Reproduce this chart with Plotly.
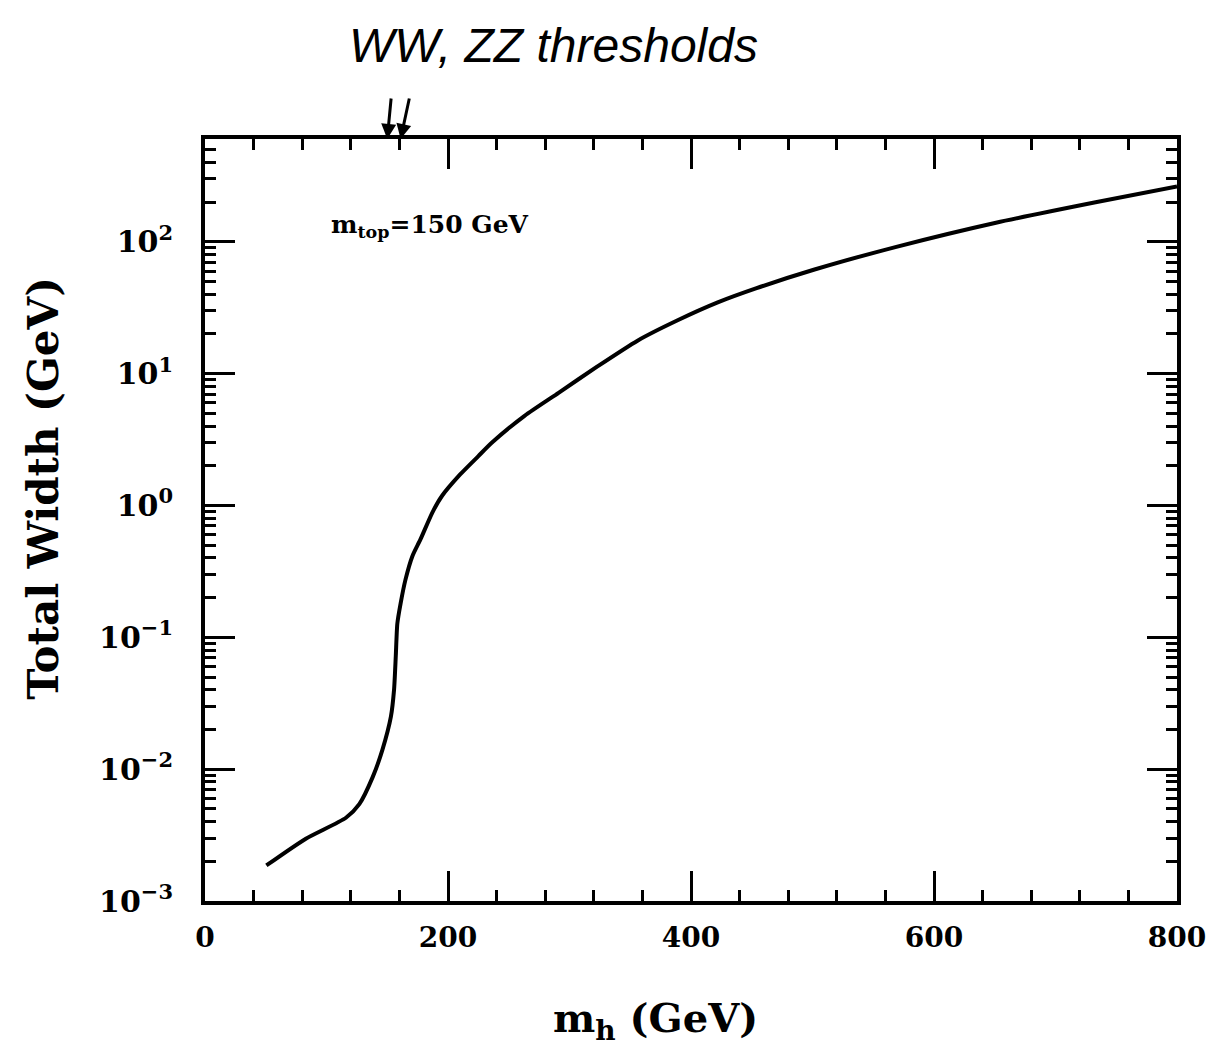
import plotly.graph_objects as go

# Higgs mass (GeV) and total width (GeV)
mh = [50.5, 83, 116, 127, 138, 146, 153, 155.6, 157, 158.3, 161, 165, 170.6,
      177.4, 187, 195, 210, 225, 236, 263, 291, 323, 356, 389, 422, 454, 501,
      569, 651, 733, 800]
width = [0.00186, 0.00297, 0.00428, 0.00543, 0.0087, 0.014, 0.025, 0.040,
         0.0713, 0.127, 0.181, 0.274, 0.411, 0.555, 0.88, 1.18, 1.72, 2.37,
         2.99, 4.79, 7.16, 11.35, 17.8, 25.4, 34.7, 44.5, 61.4, 91.6, 139.6,
         199.5, 263]

x_ticks = [0, 200, 400, 600, 800]
x_ticklabels = ["0", "200", "400", "600", "800"]
y_ticks = [1e-3, 1e-2, 1e-1, 1e0, 1e1, 1e2]
y_ticklabels = ["10<sup>−3</sup>", "10<sup>−2</sup>", "10<sup>−1</sup>",
                "10<sup>0</sup>", "10<sup>1</sup>", "10<sup>2</sup>"]
threshold_arrows = [150, 161]

FONT = "DejaVu Serif"

# page body adds an 8px offset; plot box targeted at x 205..1182, y 139..901
W, H = 1210, 1041
L, R, T, B = 197, 36, 131, 148
PW, PH = W - L - R, H - T - B


def px_to_paper_x(px):
    return (px - 8 - L) / PW


def px_to_paper_y(py):
    return 1 - (py - 8 - T) / PH


fig = go.Figure()
fig.add_trace(go.Scatter(
    x=mh, y=width, mode="lines",
    line=dict(color="black", width=4, shape="spline", smoothing=0.6),
    showlegend=False, hoverinfo="skip"))

fig.update_layout(
    width=W, height=H,
    margin=dict(l=L, r=R, t=T, b=B),
    paper_bgcolor="white", plot_bgcolor="white",
    font=dict(family=FONT, color="black"),
)

fig.update_xaxes(
    range=[0, 800], tickvals=x_ticks, ticktext=x_ticklabels,
    ticks="inside", ticklen=30, tickwidth=3, tickcolor="black",
    minor=dict(dtick=40, ticks="inside", ticklen=11, tickwidth=3, tickcolor="black"),
    showline=True, linewidth=4, linecolor="black", mirror="ticks",
    showgrid=False, zeroline=False,
    tickfont=dict(family=FONT, size=28, weight="bold"),
    ticklabelstandoff=8, ticklabeloverflow="allow",
)

fig.update_yaxes(
    type="log", range=[-3, 2.78], tickvals=y_ticks, ticktext=y_ticklabels,
    ticks="inside", ticklen=30, tickwidth=3, tickcolor="black",
    minor=dict(dtick="D1", ticks="inside", ticklen=11, tickwidth=3, tickcolor="black"),
    showline=True, linewidth=4, linecolor="black", mirror="ticks",
    showgrid=False, zeroline=False,
    tickfont=dict(family=FONT, size=30, weight="bold"),
    ticklabelstandoff=22,
)

# axis titles
fig.add_annotation(
    x=px_to_paper_x(42), y=px_to_paper_y(488), xref="paper", yref="paper",
    xanchor="center", yanchor="middle", textangle=-90, showarrow=False,
    text="Total Width (GeV)",
    font=dict(family=FONT, size=42, weight="bold", color="black"))

fig.add_annotation(
    x=px_to_paper_x(658), y=px_to_paper_y(1020), xref="paper", yref="paper",
    xanchor="center", yanchor="middle", showarrow=False,
    text="m<sub>h</sub> (GeV)",
    font=dict(family=FONT, size=40, weight="bold", color="black"))

fig.add_annotation(
    x=px_to_paper_x(330), y=px_to_paper_y(226), xref="paper", yref="paper",
    xanchor="left", yanchor="middle",
    text="m<sub>top</sub>=150 GeV", showarrow=False,
    font=dict(family=FONT, size=25, weight="bold", color="black"))

fig.add_annotation(
    x=px_to_paper_x(555), y=px_to_paper_y(45), xref="paper", yref="paper",
    xanchor="center", yanchor="middle", showarrow=False,
    text="WW, ZZ thresholds",
    font=dict(family="Liberation Sans", size=48, style="italic", color="black"))

for xa, dx in zip(threshold_arrows, [4, 9]):
    fig.add_annotation(
        x=xa, y=1, xref="x", yref="paper", text="", showarrow=True,
        ax=dx, ay=-42, arrowhead=2, arrowsize=1, arrowwidth=3, arrowcolor="black")

fig.write_html("out.html")
